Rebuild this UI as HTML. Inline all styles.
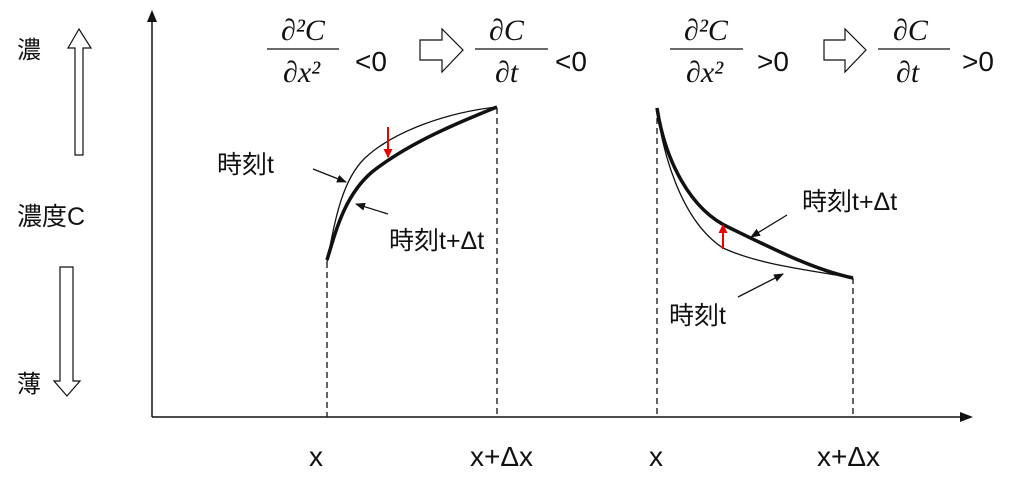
<!DOCTYPE html>
<html><head><meta charset="utf-8"><style>
html,body{margin:0;padding:0;background:#fff;}
svg{display:block;}
text{font-family:"Liberation Sans","Noto Sans CJK JP",sans-serif;fill:#111;}
.m{font-family:"Liberation Serif","DejaVu Serif",serif;font-style:italic;}
</style></head><body>
<svg width="1024" height="491" viewBox="0 0 1024 491" xmlns="http://www.w3.org/2000/svg">
<defs>
<marker id="ah" markerWidth="10" markerHeight="8" refX="9" refY="4" orient="auto" markerUnits="userSpaceOnUse"><path d="M0,0 L10,4 L0,8 z" fill="#111"/></marker>
<marker id="rh" markerWidth="10" markerHeight="9" refX="8" refY="4.5" orient="auto" markerUnits="userSpaceOnUse"><path d="M0,0 L9,4.5 L0,9 z" fill="#e00"/></marker>
</defs>
<line x1="152" y1="417" x2="152" y2="14" stroke="#111" stroke-width="1.5"/>
<path d="M147,22 L152,10 L157,22 z" fill="#111"/>
<line x1="152" y1="417" x2="964" y2="417" stroke="#111" stroke-width="1.5"/>
<path d="M960,412 L973,417 L960,422 z" fill="#111"/>
<g stroke="#111" stroke-width="1.3" stroke-dasharray="6,4">
<line x1="327" y1="262" x2="327" y2="417"/>
<line x1="497" y1="108" x2="497" y2="417"/>
<line x1="657" y1="108" x2="657" y2="417"/>
<line x1="853" y1="278" x2="853" y2="417"/>
</g>
<path d="M327,262 C335,220 342,180 365,158 C395,130 450,112 497,107" fill="none" stroke="#111" stroke-width="1.3"/>
<path d="M327,260 C336,230 345,195 372,172 C410,142 460,122 497,107" fill="none" stroke="#111" stroke-width="3.5"/>
<line x1="388" y1="127" x2="388" y2="157" stroke="#e00" stroke-width="2" marker-end="url(#rh)"/>
<path d="M657,108 C662,150 680,220 723,248 C760,265 810,270 853,278" fill="none" stroke="#111" stroke-width="1.3"/>
<path d="M657,108 C665,160 690,210 730,228 C775,250 815,270 853,278" fill="none" stroke="#111" stroke-width="3.5"/>
<line x1="723" y1="249" x2="723" y2="225" stroke="#e00" stroke-width="2" marker-end="url(#rh)"/>
<g stroke="#111" stroke-width="1.3">
<line x1="313" y1="169" x2="346" y2="182" marker-end="url(#ah)"/>
<line x1="388" y1="214" x2="356" y2="204" marker-end="url(#ah)"/>
<line x1="787" y1="215" x2="751" y2="237" marker-end="url(#ah)"/>
<line x1="738" y1="297" x2="783" y2="274" marker-end="url(#ah)"/>
</g>
<text x="217" y="173" font-size="25">時刻t</text>
<text x="389" y="249" font-size="25">時刻t+Δt</text>
<text x="802" y="210" font-size="25">時刻t+Δt</text>
<text x="669" y="324" font-size="25">時刻t</text>
<text x="17" y="58" font-size="24">濃</text>
<path d="M75,155 L75,48 L68,48 L79,29 L91,48 L83,48 L83,155 z" fill="#fff" stroke="#111" stroke-width="1.2"/>
<text x="17" y="225" font-size="25">濃度C</text>
<path d="M60,267 L73,267 L73,381 L80,381 L67,396 L54,381 L60,381 z" fill="#fff" stroke="#111" stroke-width="1.2"/>
<text x="17" y="392" font-size="24">薄</text>
<text x="309" y="466" font-size="28">x</text>
<text x="470" y="466" font-size="28">x+Δx</text>
<text x="649" y="466" font-size="28">x</text>
<text x="817" y="466" font-size="28">x+Δx</text>
<g font-size="30">
<text class="m" x="281" y="40">∂²C</text>
<line x1="267" y1="49" x2="339" y2="49" stroke="#111" stroke-width="1.3"/>
<text class="m" x="283" y="82">∂x²</text>
<text x="355" y="71" font-size="28">&lt;0</text>
<text class="m" x="489" y="40">∂C</text>
<line x1="475" y1="49" x2="548" y2="49" stroke="#111" stroke-width="1.3"/>
<text class="m" x="495" y="82">∂t</text>
<text x="555" y="71" font-size="28">&lt;0</text>
<text class="m" x="684" y="40">∂²C</text>
<line x1="670" y1="49" x2="743" y2="49" stroke="#111" stroke-width="1.3"/>
<text class="m" x="686" y="82">∂x²</text>
<text x="757" y="71" font-size="28">&gt;0</text>
<text class="m" x="893" y="40">∂C</text>
<line x1="878" y1="49" x2="950" y2="49" stroke="#111" stroke-width="1.3"/>
<text class="m" x="896" y="82">∂t</text>
<text x="962" y="71" font-size="28">&gt;0</text>
</g>
<path d="M420,40 L442,40 L442,29 L463,50 L442,72 L442,60 L420,60 z" fill="#fff" stroke="#111" stroke-width="1.2"/>
<path d="M824,40 L845,40 L845,29 L866,50 L845,72 L845,60 L824,60 z" fill="#fff" stroke="#111" stroke-width="1.2"/>
</svg>
</body></html>
